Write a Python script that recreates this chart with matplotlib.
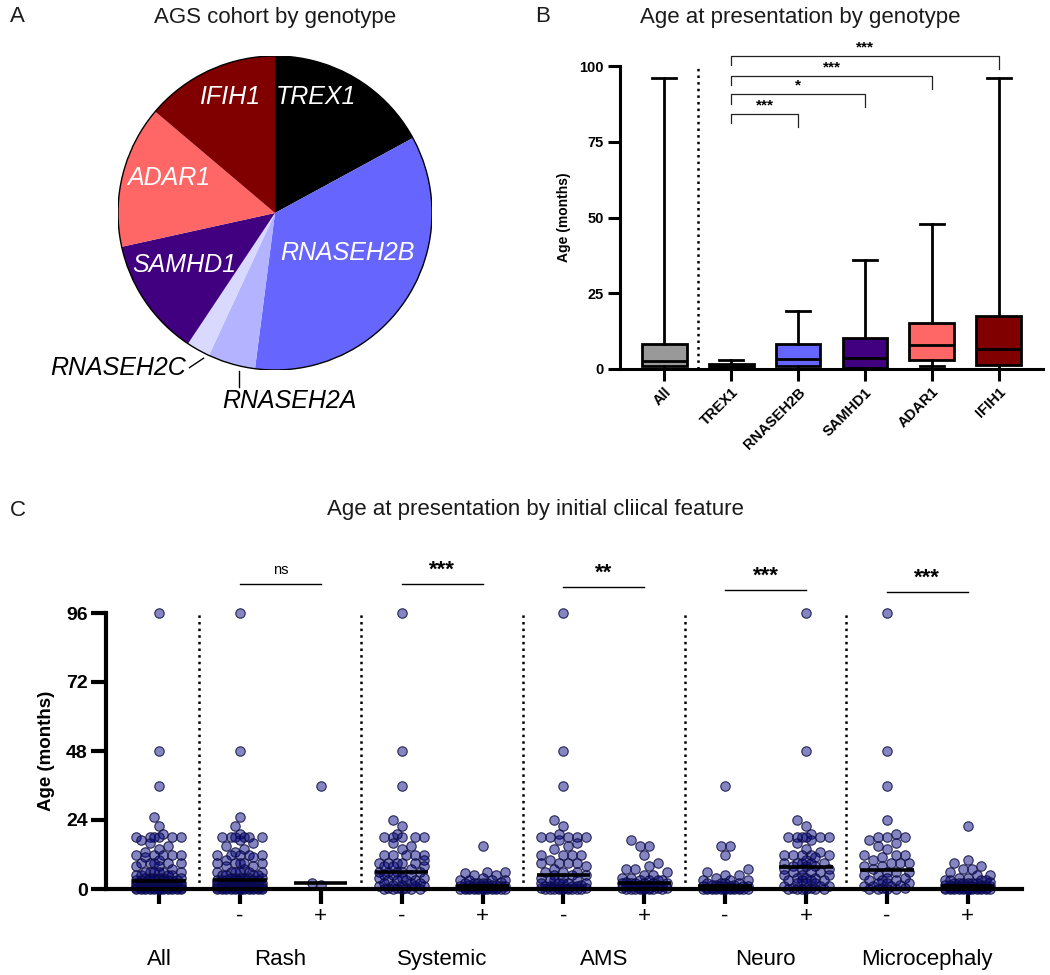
import numpy as np
import matplotlib
matplotlib.use('Agg')
import matplotlib.pyplot as plt
from matplotlib.patches import Circle

plt.rcParams['font.family'] = ['Liberation Sans', 'DejaVu Sans']

# ---------------- data ----------------
# A: cohort by genotype (patients)
genes = ['TREX1', 'RNASEH2B', 'RNASEH2A', 'RNASEH2C', 'SAMHD1', 'ADAR1', 'IFIH1']
gene_counts = [21, 43, 6, 3, 15, 18, 17]
gene_colors = ['#000000', '#6666FF', '#B3B3FF', '#D9D9FF', '#400080', '#FF6666', '#800000']

# B: age at presentation by genotype (box summary, months)
box_groups = ['All', 'TREX1', 'RNASEH2B', 'SAMHD1', 'ADAR1', 'IFIH1']
box_min = [0, 0, 0, 0, 1, 0]
box_q1 = [1, 0.2, 1.1, 0.3, 2.9, 1.3]
box_med = [2.7, 0.8, 3.3, 3.6, 7.9, 6.7]
box_q3 = [8.4, 1.5, 8.4, 10.2, 15.2, 17.4]
box_max = [96, 3, 19, 36, 48, 96]
box_colors = ['#999999', '#000000', '#6666FF', '#400080', '#FF6666', '#800000']

sig_pairs = [(1, 2), (1, 3), (1, 4), (1, 5)]
sig_labels = ['***', '*', '***', '***']
sig_heights = [84.2, 90.7, 96.7, 103.3]

# C: age at presentation by initial clinical feature (months)
age_all = [96, 48, 36, 25, 22, 19, 18, 18, 18, 18, 18, 18, 17, 16, 15, 14, 13,
           12, 12, 12, 12, 12, 11, 10, 9, 9, 9, 9, 9, 8, 8, 7,
           6, 6, 6, 6, 6, 6, 5, 5, 5, 5, 4, 4, 4, 4, 4, 4,
           3, 3, 3, 3, 3, 3, 3, 3, 2.5, 2.5, 2, 2, 2, 2, 2, 2, 2, 2, 2, 2,
           1.5, 1.5, 1.5, 1.5, 1.5, 1.5, 1, 1, 1, 1, 1, 1, 1, 1, 1, 1, 1, 1,
           0.5, 0.5, 0.5, 0.5, 0.5, 0.5, 0.5, 0.5, 0.5, 0.5, 0.5, 0.5,
           0, 0, 0, 0, 0, 0, 0, 0, 0, 0, 0, 0, 0, 0]
rash_neg = [96, 48, 25, 22, 19, 18, 18, 18, 18, 18, 18, 17, 16, 15, 14, 13,
            12, 12, 12, 12, 12, 11, 10, 9, 9, 9, 9, 9, 8, 8, 7,
            6, 6, 6, 6, 6, 6, 5, 5, 5, 5, 4, 4, 4, 4, 4, 4,
            3, 3, 3, 3, 3, 3, 3, 3, 2.5, 2.5, 2, 2, 2, 2, 2, 2, 2, 2, 2,
            1.5, 1.5, 1.5, 1.5, 1.5, 1, 1, 1, 1, 1, 1, 1, 1, 1, 1, 1, 1,
            0.5, 0.5, 0.5, 0.5, 0.5, 0.5, 0.5, 0.5, 0.5, 0.5, 0.5, 0.5,
            0, 0, 0, 0, 0, 0, 0, 0, 0, 0, 0, 0, 0, 0]
rash_pos = [36, 2, 1.5]
sys_neg = [96, 48, 36, 24, 22, 19, 18, 18, 18, 18, 18, 16, 15, 14, 12, 12, 12, 12, 12,
           10, 9, 9, 9, 9, 9, 8, 8, 8, 7, 6, 6, 6, 6, 6, 5, 5, 5, 4, 4, 4,
           3, 3, 3, 3, 2, 2, 2, 1.5, 1.5, 1, 1, 1, 0.5, 0.5, 0.5, 0, 0, 0, 0, 0]
sys_pos = [15, 6, 6, 5.5, 5, 5, 4, 3, 3, 3, 3, 2.5, 2, 2, 2, 2, 2, 1.5, 1.5, 1.5,
           1, 1, 1, 1, 1, 1, 1, 0.5, 0.5, 0.5, 0.5, 0.5, 0.5, 0.5, 0.5,
           0, 0, 0, 0, 0, 0, 0, 0, 0, 0, 0, 0, 0, 0]
ams_neg = [96, 48, 36, 24, 22, 19, 18, 18, 18, 18, 18, 17, 16, 15, 14, 12, 12, 12, 12,
           10, 9, 9, 9, 9, 8, 7, 6, 6, 6, 5, 5, 5, 4, 4, 3, 3, 3, 2, 2, 2, 2, 2,
           1.5, 1, 1, 1, 1, 1, 0.5, 0.5, 0.5, 0.5, 0.5, 0, 0, 0, 0, 0, 0, 0, 0, 0]
ams_pos = [17, 15, 15, 12, 9, 8, 7, 7, 6, 5, 5, 4, 4, 3, 3, 3, 3, 2.5, 2, 2, 2, 2, 2, 2,
           1.5, 1.5, 1.5, 1, 1, 1, 1, 1, 1, 0.5, 0.5, 0.5, 0.5, 0.5, 0.5,
           0, 0, 0, 0, 0, 0, 0, 0]
neuro_neg = [36, 15, 15, 12, 7, 6, 5, 5, 4, 3, 3, 3, 2, 2, 2, 2, 1.5, 1.5, 1.5,
             1, 1, 1, 1, 1, 1, 0.5, 0.5, 0.5, 0.5, 0.5, 0.5, 0.5, 0.5,
             0, 0, 0, 0, 0, 0, 0, 0, 0, 0, 0, 0]
neuro_pos = [96, 48, 24, 22, 19, 18, 18, 18, 18, 18, 18, 17, 16, 14, 13, 12, 12, 12, 12, 12,
             11, 10, 9, 9, 9, 9, 9, 8, 8, 8, 7, 7, 7, 6, 6, 6, 5, 5, 5, 4, 4, 4,
             3, 3, 3, 3, 2, 2, 2, 1, 1, 1, 0.5, 0.5, 0, 0, 0, 0, 0, 0]
micro_neg = [96, 48, 36, 24, 19, 18, 18, 18, 17, 16, 15, 14, 12, 12, 12, 11, 10, 9, 9, 9,
             8, 8, 7, 6, 6, 6, 5, 5, 4, 4, 3, 3, 3, 2, 2, 2, 1.5, 1, 1, 1, 0.5, 0.5,
             0, 0, 0, 0]
micro_pos = [22, 10, 9, 8, 7, 7, 6, 5, 5, 4, 4, 3, 3, 3, 3, 2.5, 2, 2, 2, 2, 2, 2,
             1.5, 1.5, 1.5, 1.5, 1, 1, 1, 1, 1, 1, 1,
             0.5, 0.5, 0.5, 0.5, 0.5, 0.5, 0.5, 0.5, 0.5, 0.5,
             0, 0, 0, 0, 0, 0, 0, 0, 0, 0, 0, 0, 0, 0, 0, 0]

scatter_groups = [age_all, rash_neg, rash_pos, sys_neg, sys_pos, ams_neg, ams_pos,
                  neuro_neg, neuro_pos, micro_neg, micro_pos]
sign_labels = ['', '-', '+', '-', '+', '-', '+', '-', '+', '-', '+']
feature_names = ['All', 'Rash', 'Systemic', 'AMS', 'Neuro', 'Microcephaly']
feature_sig = ['ns', '***', '**', '***', '***']
feature_sig_y = [106.1, 106.1, 105.0, 104.0, 103.3]


def swarm_x(ax, xc, vals, width=0.33, dot_px=9.0):
    # GraphPad-like scatter: spread dots sideways in pixel space so they don't collide
    vals = np.asarray(vals, dtype=float)
    pts = ax.transData.transform(np.column_stack([np.full(len(vals), xc), vals]))
    x0 = pts[0, 0]
    half = abs(ax.transData.transform((xc + width, 0))[0] - x0)
    step = dot_px / 2
    k = int(half // step)
    cands = step * np.arange(-k, k + 1)
    cands = cands[np.argsort(np.abs(cands), kind='stable')]
    placed = []
    xs = np.zeros(len(vals))
    for i in np.argsort(vals, kind='stable'):
        y = pts[i, 1]
        best, best_d = 0.0, -1
        for c in cands:
            if placed:
                arr = np.array(placed)
                d = np.min(np.hypot(arr[:, 0] - c, arr[:, 1] - y))
            else:
                d = np.inf
            if d >= dot_px:
                best = c
                break
            if d > best_d:
                best, best_d = c, d
        placed.append((best, y))
        xs[i] = best
    return xc + xs * width / half


fig = plt.figure(figsize=(10.5, 9.75), dpi=100)

# ---------------- A: pie ----------------
axA = fig.add_axes([118 / 1050, 1 - (213 + 157) / 975, 314 / 1050, 314 / 975])
axA.pie(gene_counts, colors=gene_colors, startangle=90, counterclock=False,
        wedgeprops=dict(linewidth=0))
axA.add_patch(Circle((0, 0), 1, fill=False, edgecolor='black', lw=1))
axA.set_xlim(-1, 1)
axA.set_ylim(-1, 1)
axA.set_aspect('equal')
axA.axis('off')
lab_kw = dict(fontsize=18, style='italic', color='white', ha='center', va='center')
axA.text(0.26, 0.74, 'TREX1', **lab_kw)
axA.text(-0.29, 0.74, 'IFIH1', **lab_kw)
axA.text(-0.675, 0.22, 'ADAR1', **lab_kw)
axA.text(-0.58, -0.33, 'SAMHD1', **lab_kw)
axA.text(0.46, -0.255, 'RNASEH2B', **lab_kw)
axA.text(-0.57, -0.99, 'RNASEH2C', fontsize=18, style='italic', ha='right', va='center',
         clip_on=False)
axA.plot([-0.545, -0.455], [-0.985, -0.925], color='black', lw=1, clip_on=False)
axA.text(-0.335, -1.20, 'RNASEH2A', fontsize=18, style='italic', ha='left', va='center',
         clip_on=False)
axA.plot([-0.23, -0.23], [-1.005, -1.11], color='black', lw=1, clip_on=False)
fig.text(275 / 1050, 1 - 17 / 975, 'AGS cohort by genotype', fontsize=16,
         ha='center', va='center', color='#1a1a1a')
fig.text(10 / 1050, 1 - 17 / 975, 'A', fontsize=16, ha='left', va='center', color='#1a1a1a')

# ---------------- B: box plot ----------------
axB = fig.add_axes([620 / 1050, 1 - 369 / 975, 423 / 1050, 303 / 975])
stats = []
for g, lo, q1, med, q3, hi in zip(box_groups, box_min, box_q1, box_med, box_q3, box_max):
    stats.append(dict(label=g, whislo=lo, q1=q1, med=med, q3=q3, whishi=hi, fliers=[]))
bp = axB.bxp(stats, positions=range(len(stats)), widths=0.67, patch_artist=True,
             showfliers=False,
             boxprops=dict(linewidth=2, edgecolor='black'),
             medianprops=dict(color='black', linewidth=2),
             whiskerprops=dict(color='black', linewidth=2),
             capprops=dict(color='black', linewidth=2), capwidths=0.35)
for patch, c in zip(bp['boxes'], box_colors):
    patch.set_facecolor(c)
for art in bp['boxes'] + bp['medians'] + bp['whiskers'] + bp['caps']:
    art.set_clip_on(False)
axB.axvline(0.5, ymin=0, ymax=1, color='black', ls=':', lw=1.8)
axB.set_xlim(-0.66, 5.66)
axB.set_ylim(0, 100)
axB.set_yticks([0, 25, 50, 75, 100])
axB.set_xticks(range(len(box_groups)))
axB.set_xticklabels(box_groups, rotation=45, ha='right', rotation_mode='anchor',
                    fontweight='bold', fontsize=10.5)
for lab in axB.get_yticklabels():
    lab.set_fontweight('bold')
    lab.set_fontsize(10.5)
axB.tick_params(axis='both', width=2.2, length=8.5, direction='out', pad=3)
for s in ['top', 'right']:
    axB.spines[s].set_visible(False)
for s in ['left', 'bottom']:
    axB.spines[s].set_linewidth(2.2)
axB.set_ylabel('Age (months)', fontweight='bold', fontsize=10, labelpad=6)
for (a, b), lab, h in zip(sig_pairs, sig_labels, sig_heights):
    axB.plot([a, a, b, b], [h - 3.1, h, h, h - 4.3], color='#222222', lw=0.9, clip_on=False)
    axB.text((a + b) / 2, h + 0.6, lab, ha='center', va='bottom', fontsize=11,
             fontweight='bold', clip_on=False)
fig.text(800 / 1050, 1 - 17 / 975, 'Age at presentation by genotype', fontsize=16,
         ha='center', va='center', color='#1a1a1a')
fig.text(535 / 1050, 1 - 17 / 975, 'B', fontsize=16, ha='left', va='center', color='#1a1a1a')

# ---------------- C: scatter dot plot ----------------
axC = fig.add_axes([106 / 1050, 1 - 889 / 975, 916 / 1050, 276 / 975])
axC.set_xlim(-0.655, 10.67)
axC.set_ylim(0, 96)
for i, vals in enumerate(scatter_groups):
    xs = swarm_x(axC, i, vals)
    axC.scatter(xs, vals, s=46, facecolor=(0.0, 0.0, 0.5, 0.48),
                edgecolor=(0.05, 0.05, 0.25, 0.85), linewidth=0.8, clip_on=False, zorder=2)
    axC.hlines(np.median(vals), i - 0.33, i + 0.33, color='black', lw=2.6, zorder=3,
               clip_on=False)
for xv in [0.5, 2.5, 4.5, 6.5, 8.5]:
    axC.plot([xv, xv], [0, 96], color='black', ls=':', lw=1.8)
axC.set_yticks([0, 24, 48, 72, 96])
axC.set_xticks(range(len(scatter_groups)))
axC.set_xticklabels([])
for lab in axC.get_yticklabels():
    lab.set_fontweight('bold')
    lab.set_fontsize(14)
axC.tick_params(axis='both', width=3, length=11, direction='out', pad=2)
for s in ['top', 'right']:
    axC.spines[s].set_visible(False)
for s in ['left', 'bottom']:
    axC.spines[s].set_linewidth(3)
axC.spines['bottom'].set_zorder(4)
axC.set_ylabel('Age (months)', fontweight='bold', fontsize=13.5, labelpad=8)
xtr = axC.get_xaxis_transform()
for i, s in enumerate(sign_labels):
    if s:
        axC.text(i, -0.12, s, transform=xtr, ha='center', va='baseline', fontsize=16)
feat_x = [0, 1.5, 3.5, 5.5, 7.5, 9.5]
for xv, name in zip(feat_x, feature_names):
    axC.text(xv, -0.275, name, transform=xtr, ha='center', va='baseline', fontsize=16)
for j, (lab, yv) in enumerate(zip(feature_sig, feature_sig_y)):
    a, b = 2 * j + 1, 2 * j + 2
    axC.plot([a, b], [yv, yv], color='black', lw=1, clip_on=False)
    if lab == 'ns':
        axC.text((a + b) / 2, yv + 2.5, lab, ha='center', va='bottom', fontsize=10.5,
                 clip_on=False)
    else:
        axC.text((a + b) / 2, yv + 1.2, lab, ha='center', va='bottom', fontsize=16,
                 fontweight='bold', clip_on=False)
fig.text(535 / 1050, 1 - 510 / 975, 'Age at presentation by initial cliical feature',
         fontsize=16, ha='center', va='center', color='#1a1a1a')
fig.text(10 / 1050, 1 - 510 / 975, 'C', fontsize=16, ha='left', va='center', color='#1a1a1a')

fig.savefig('out.png', dpi=100)
